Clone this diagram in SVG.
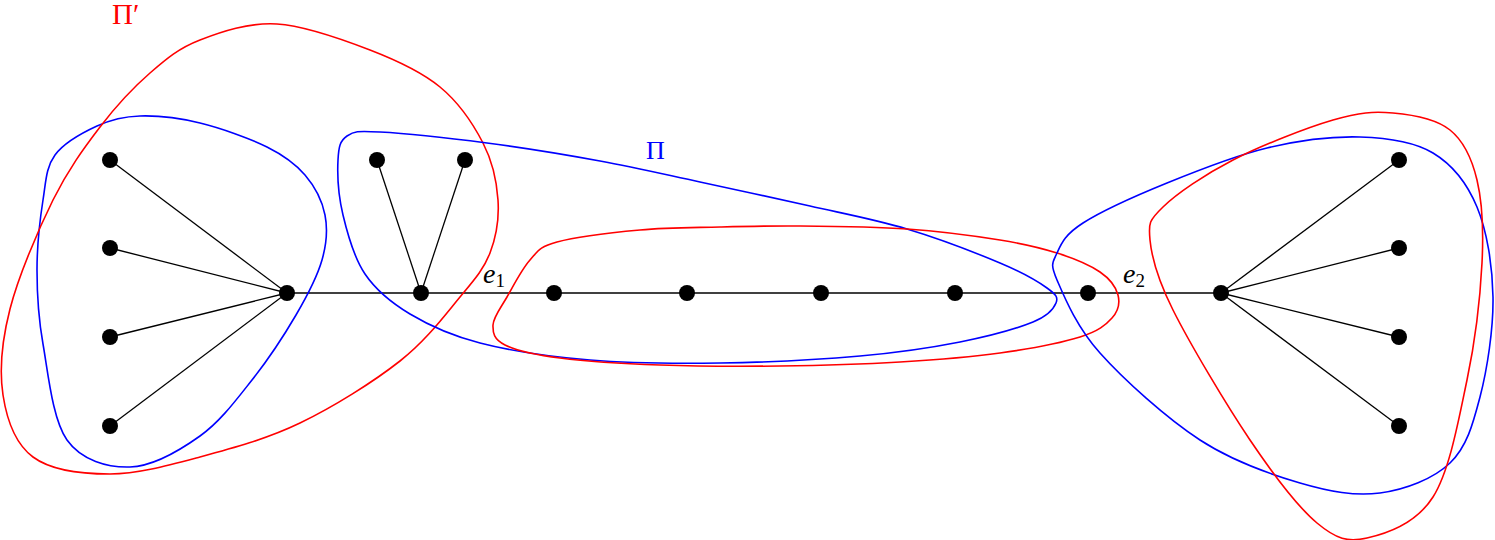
<svg xmlns="http://www.w3.org/2000/svg" width="1495" height="540" viewBox="0 0 1495 540">
<style>
.edge{stroke:#000;stroke-width:1.3;fill:none}
.node{fill:#000}
.blue{stroke:#0000ff;stroke-width:1.6;fill:none}
.red{stroke:#ff0000;stroke-width:1.6;fill:none}
.lbl{font-family:"Liberation Serif","Times New Roman",serif}
.math{font-family:"Liberation Serif","Times New Roman",serif;font-size:28px;font-style:italic;fill:#000}
.sub{font-style:normal;font-size:19px}
</style>
<rect width="1495" height="540" fill="#fff"/>
<g id="connectors">
<line class="edge" x1="287" y1="293" x2="1221" y2="293"/>
<line class="edge" x1="110" y1="160" x2="287" y2="293"/>
<line class="edge" x1="110" y1="248" x2="287" y2="293"/>
<line class="edge" x1="110" y1="337" x2="287" y2="293"/>
<line class="edge" x1="110" y1="426" x2="287" y2="293"/>
<line class="edge" x1="377" y1="160" x2="421" y2="293"/>
<line class="edge" x1="465" y1="160" x2="421" y2="293"/>
<line class="edge" x1="1399" y1="160" x2="1221" y2="293"/>
<line class="edge" x1="1399" y1="248" x2="1221" y2="293"/>
<line class="edge" x1="1399" y1="337" x2="1221" y2="293"/>
<line class="edge" x1="1399" y1="426" x2="1221" y2="293"/>
</g>
<g id="regions">
<path id="blue-left" class="blue" d="M140,116 C157.2,115.5 178.8,117.8 200,123 C221.2,128.2 249.5,138.3 267,147 C284.5,155.7 295.3,163.7 305,175 C314.7,186.3 322.2,200.8 325,215 C327.8,229.2 326.8,243.3 322,260 C317.2,276.7 307.7,295 296,315 C284.3,335 268,359.8 252,380 C236,400.2 220.3,421.5 200,436 C179.7,450.5 152.2,466.3 130,467 C107.8,467.7 81.5,460.5 67,440 C52.5,419.5 48,372.3 43,344 C38,315.7 37,294 37,270 C37,246 40,219.2 43,200 C46,180.8 46,167.3 55,155 C64,142.7 82.8,132.5 97,126 C111.2,119.5 122.8,116.5 140,116 Z"/>
<path id="red-left" class="red" d="M277,24 C305.3,25.7 342.8,39.5 370,50 C397.2,60.5 421.2,71.5 440,87 C458.8,102.5 473.3,124.2 483,143 C492.7,161.8 496.8,181.7 498,200 C499.2,218.3 496.3,236.8 490,253 C483.7,269.2 475,279 460,297 C445,315 426.7,340 400,361 C373.3,382 333.3,407 300,423 C266.7,439 231.7,448.5 200,457 C168.3,465.5 137.8,474 110,474 C82.2,474 50.8,470.2 33,457 C15.2,443.8 6.8,419.7 3,395 C-0.8,370.3 1.7,341.5 10,309 C18.3,276.5 38,230.3 53,200 C68,169.7 83.8,148.2 100,127 C116.2,105.8 133.3,87.5 150,73 C166.7,58.5 178.8,48.2 200,40 C221.2,31.8 248.7,22.3 277,24 Z"/>
<path id="blue-mid" class="blue" d="M380,132 C403.3,133.2 450.3,138.2 487,143 C523.7,147.8 564.5,154.5 600,161 C635.5,167.5 665,174.5 700,182 C735,189.5 775.5,198.2 810,206 C844.5,213.8 875.3,219.5 907,229 C938.7,238.5 976.7,253.2 1000,263 C1023.3,272.8 1037.7,281.3 1047,288 C1056.3,294.7 1058.3,297.3 1056,303 C1053.7,308.7 1049,315.5 1033,322 C1017,328.5 988.8,336.3 960,342 C931.2,347.7 900,352.5 860,356 C820,359.5 765,362.3 720,363 C675,363.7 630,363.3 590,360 C550,356.7 510,350.7 480,343 C450,335.3 429.2,325.5 410,314 C390.8,302.5 376.2,290.5 365,274 C353.8,257.5 347.5,234 343,215 C338.5,196 337.3,173.2 338,160 C338.7,146.8 340,140.7 347,136 C354,131.3 356.7,130.8 380,132 Z"/>
<path id="red-mid" class="red" d="M557,242 C575.3,237 612.8,232.5 640,230 C667.2,227.5 693.3,227.7 720,227 C746.7,226.3 768.8,225.7 800,226 C831.2,226.3 873.7,226.7 907,229 C940.3,231.3 975,236 1000,240 C1025,244 1040.3,247.7 1057,253 C1073.7,258.3 1089.8,265 1100,272 C1110.2,279 1116,287.3 1118,295 C1120,302.7 1118.3,311 1112,318 C1105.7,325 1098.7,331.2 1080,337 C1061.3,342.8 1030,348.8 1000,353 C970,357.2 936.7,359.8 900,362 C863.3,364.2 820,365.5 780,366 C740,366.5 696.7,366.3 660,365 C623.3,363.7 585.8,361.3 560,358 C534.2,354.7 516.2,350.5 505,345 C493.8,339.5 492.7,333 493,325 C493.3,317 500.8,307.8 507,297 C513.2,286.2 521.7,269.2 530,260 C538.3,250.8 538.7,247 557,242 Z"/>
<path id="blue-right" class="blue" d="M1057,253 C1061.3,243.5 1064.7,234.7 1083,223 C1101.3,211.3 1136.3,195.5 1167,183 C1197.7,170.5 1234.8,155.7 1267,148 C1299.2,140.3 1332.3,136.2 1360,137 C1387.7,137.8 1413.5,141.3 1433,153 C1452.5,164.7 1467,183 1477,207 C1487,231 1492.5,265.3 1493,297 C1493.5,328.7 1487.2,369.3 1480,397 C1472.8,424.7 1466.7,447 1450,463 C1433.3,479 1405,489.7 1380,493 C1355,496.3 1330,491.8 1300,483 C1270,474.2 1233.3,461.7 1200,440 C1166.7,418.3 1123.8,379.7 1100,353 C1076.2,326.3 1064.2,296.7 1057,280 C1049.8,263.3 1052.7,262.5 1057,253 Z"/>
<path id="red-right" class="red" d="M1393,113 C1412.5,114.7 1436,118.8 1450,130 C1464,141.2 1471.7,157.8 1477,180 C1482.3,202.2 1483.7,229.7 1482,263 C1480.3,296.3 1475.2,341 1467,380 C1458.8,419 1449.7,470.7 1433,497 C1416.3,523.3 1386.3,533.7 1367,538 C1347.7,542.3 1336.5,539.3 1317,523 C1297.5,506.7 1274,475.5 1250,440 C1226,404.5 1189.7,343.3 1173,310 C1156.3,276.7 1151.7,257.2 1150,240 C1148.3,222.8 1149.2,220.3 1163,207 C1176.8,193.7 1204.7,174.5 1233,160 C1261.3,145.5 1306.3,127.8 1333,120 C1359.7,112.2 1373.5,111.3 1393,113 Z"/>
</g>
<g id="n-l1"><circle class="node" cx="110" cy="160" r="8"/></g>
<g id="n-l2"><circle class="node" cx="110" cy="248" r="8"/></g>
<g id="n-l3"><circle class="node" cx="110" cy="337" r="8"/></g>
<g id="n-l4"><circle class="node" cx="110" cy="426" r="8"/></g>
<g id="n-hub1"><circle class="node" cx="287" cy="293" r="8"/></g>
<g id="n-v1"><circle class="node" cx="377" cy="160" r="8"/></g>
<g id="n-v2"><circle class="node" cx="465" cy="160" r="8"/></g>
<g id="n-hub2"><circle class="node" cx="421" cy="293" r="8"/></g>
<g id="n-p1"><circle class="node" cx="554" cy="293" r="8"/></g>
<g id="n-p2"><circle class="node" cx="687" cy="293" r="8"/></g>
<g id="n-p3"><circle class="node" cx="821" cy="293" r="8"/></g>
<g id="n-p4"><circle class="node" cx="955" cy="293" r="8"/></g>
<g id="n-p5"><circle class="node" cx="1088" cy="293" r="8"/></g>
<g id="n-hub3"><circle class="node" cx="1221" cy="293" r="8"/></g>
<g id="n-r1"><circle class="node" cx="1399" cy="160" r="8"/></g>
<g id="n-r2"><circle class="node" cx="1399" cy="248" r="8"/></g>
<g id="n-r3"><circle class="node" cx="1399" cy="337" r="8"/></g>
<g id="n-r4"><circle class="node" cx="1399" cy="426" r="8"/></g>
<g id="labels">
<text class="lbl" x="112" y="24" font-size="29" fill="#ff0000">Π′</text>
<text class="lbl" x="646" y="159" font-size="26" fill="#0000ff">Π</text>
<text class="math" x="483" y="283">e<tspan class="sub" dy="4">1</tspan></text>
<text class="math" x="1123" y="283">e<tspan class="sub" dy="4">2</tspan></text>
</g>
</svg>
